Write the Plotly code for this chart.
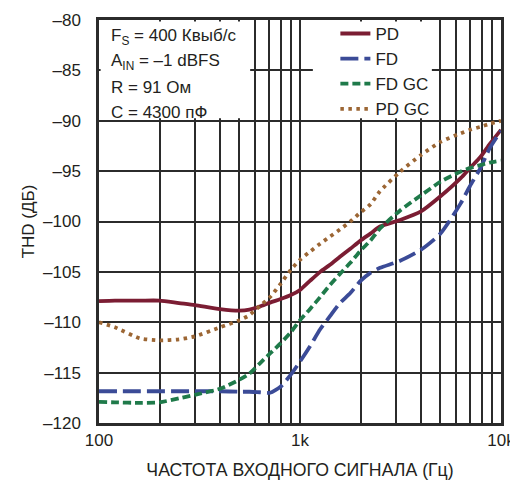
import plotly.graph_objects as go

freq = [100, 120, 160, 200, 250, 300, 400, 500, 560, 630, 710, 800, 900, 1000,
        1120, 1260, 1410, 1580, 1780, 2000, 2240, 2500, 3150, 4000, 5000, 6300,
        7000, 7900, 8800, 10000]

pd_thd = [-107.9, -107.85, -107.85, -107.85, -108.1, -108.3, -108.7, -108.85, -108.75, -108.45,
          -108.05, -107.7, -107.3, -106.8, -105.9, -105.0, -104.3, -103.5, -102.7, -101.9,
          -101.2, -100.5, -99.85, -99.0, -97.5, -95.7, -94.7, -93.6, -92.3, -90.9]

fd_thd = [-116.85, -116.85, -116.85, -116.85, -116.85, -116.85, -116.85, -116.9, -116.9, -116.95,
          -117.0, -116.4, -115.2, -113.9, -112.4, -110.7, -109.4, -108.1, -107.1, -105.9,
          -105.1, -104.6, -103.9, -102.8, -101.2, -98.2, -96.5, -94.7, -92.7, -91.0]

fdgc_thd = [-117.9, -117.95, -118.0, -117.95, -117.55, -117.2, -116.6, -115.7, -115.1, -114.1,
            -113.1, -112.1, -111.0, -109.8, -108.7, -107.5, -106.3, -105.2, -104.1, -102.9,
            -101.9, -100.7, -98.9, -97.4, -96.05, -95.05, -94.7, -94.4, -94.15, -93.95]

pdgc_thd = [-110.0, -110.5, -111.6, -111.8, -111.7, -111.4, -110.5, -109.8, -109.3, -108.4,
            -107.5, -106.2, -104.8, -103.8, -103.0, -102.2, -101.5, -100.8, -100.0, -99.1,
            -98.3, -97.0, -95.05, -93.4, -92.1, -91.25, -90.9, -90.6, -90.3, -90.0]

y_ticks = [-80, -85, -90, -95, -100, -105, -110, -115, -120]
y_labels = ["–80", "–85", "–90", "–95", "–100", "–105", "–110", "–115", "–120"]
x_ticks = [100, 1000, 10000]
x_labels = ["100", "1k", "10k"]

notes = ["F<sub>S</sub> = 400 Квыб/с", "A<sub>IN</sub> = –1 dBFS", "R = 91 Ом", "C = 4300 пФ"]

font = "Liberation Sans, Arial, sans-serif"
ink = "#231f20"
grid = "#2b2b2b"

fig = go.Figure()
series = [
    ("PD", pd_thd, "#7b1d33", "solid"),
    ("FD", fd_thd, "#3b4b97", "18px,6px"),
    ("FD GC", fdgc_thd, "#1f7a4a", "8px,4px"),
    ("PD GC", pdgc_thd, "#9c6634", "3.5px,4.5px"),
]
for name, vals, color, dash in series:
    fig.add_trace(go.Scatter(
        x=freq, y=vals, name=name, mode="lines",
        line=dict(color=color, width=3.8, dash=dash, shape="spline", smoothing=0.6),
    ))

# white boxes over the grid behind the note text and the legend
fig.add_shape(type="rect", xref="x domain", yref="y domain", x0=0.004, x1=0.376,
              y0=0.756, y1=0.996, fillcolor="white", line_width=0, layer="above")
fig.add_shape(type="rect", xref="x domain", yref="y domain", x0=0.532, x1=0.828,
              y0=0.756, y1=0.996, fillcolor="white", line_width=0, layer="above")

note_y = [0.958, 0.896, 0.832, 0.771]
for txt, yy in zip(notes, note_y):
    fig.add_annotation(text=txt, xref="paper", yref="paper", x=0.025, y=yy,
                       xanchor="left", yanchor="middle", showarrow=False,
                       font=dict(family=font, size=17, color=ink))

fig.update_xaxes(
    type="log", range=[2, 4], tickvals=x_ticks, ticktext=x_labels,
    showline=True, linecolor=grid, linewidth=2.5, mirror=True,
    ticks="", showgrid=True, gridcolor=grid, gridwidth=2,
    minor=dict(dtick="D1", showgrid=True, gridcolor=grid, gridwidth=2),
    tickfont=dict(family=font, size=17, color=ink),
    title=dict(text="ЧАСТОТА ВХОДНОГО СИГНАЛА (Гц)", font=dict(family=font, size=17.7, color=ink),
               standoff=15),
    zeroline=False,
)
fig.update_yaxes(
    range=[-120, -80], tickvals=y_ticks, ticktext=y_labels,
    showline=True, linecolor=grid, linewidth=2.5, mirror=True,
    ticks="", showgrid=True, gridcolor=grid, gridwidth=2,
    tickfont=dict(family=font, size=17, color=ink), ticklabelstandoff=12,
    title=dict(text="THD (ДБ)", font=dict(family=font, size=17, color=ink), standoff=5),
    zeroline=False,
)

# page body adds an 8px offset, so the figure is a little smaller than the window
fig.update_layout(
    width=510, height=473,
    margin=dict(l=91, r=17, t=12, b=58, autoexpand=False),
    paper_bgcolor="white", plot_bgcolor="white",
    font=dict(family=font, color=ink),
    legend=dict(x=0.588, y=1.01, xanchor="left", yanchor="top", bgcolor="rgba(0,0,0,0)",
                font=dict(family=font, size=17, color=ink), borderwidth=0),
    showlegend=True,
)

fig.write_html("out.html")
